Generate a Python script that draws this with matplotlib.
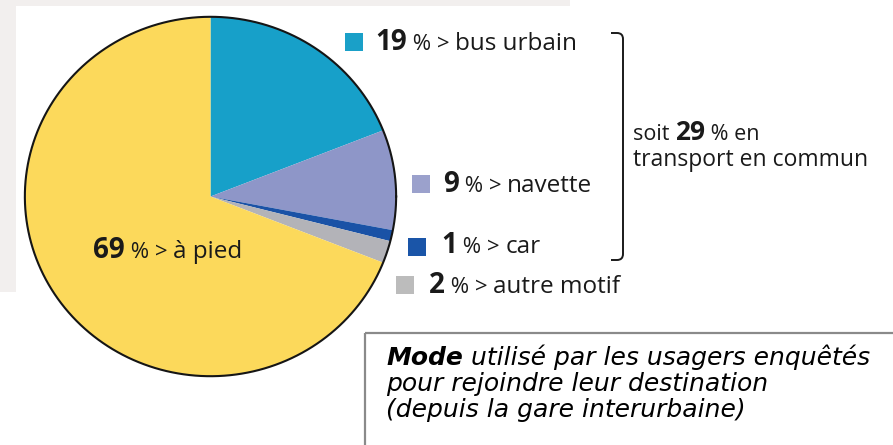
import numpy as np
import matplotlib
matplotlib.use('Agg')
import matplotlib.pyplot as plt
from matplotlib.patches import Rectangle, PathPatch
from matplotlib.path import Path

# data, clockwise from 12 o'clock
labels = ['bus urbain', 'navette', 'car', 'autre motif', 'à pied']
values = [19, 9, 1, 2, 69]
colors = ['#17a0c9', '#8e96c8', '#1a52a6', '#b3b3b8', '#fcd95b']
square_colors = ['#1aa0c8', '#9ba1cc', '#1a55a8', '#bcbcbc']
total_tc = 29
caption_bold = 'Mode'
caption_rest = [' utilisé par les usagers enquêtés',
                'pour rejoindre leur destination',
                '(depuis la gare interurbaine)']

W, H = 893, 445
fig = plt.figure(figsize=(W / 100, H / 100), dpi=100)

# pie in its own axes (slightly elliptical like the scan)
px0, py0, px1, py1 = 23, 15, 398, 378
pax = fig.add_axes([px0 / W, 1 - py1 / H, (px1 - px0) / W, (py1 - py0) / H])
pax.pie(values, colors=colors, startangle=90, counterclock=False,
        radius=1, wedgeprops=dict(linewidth=0))
t = np.linspace(0, 2 * np.pi, 400)
pax.plot(np.cos(t), np.sin(t), color='#151515', lw=1.5)
pax.set_aspect('auto')
pax.set_xlim(-1.01, 1.01)
pax.set_ylim(-1.01, 1.01)
pax.axis('off')

# overlay axes in pixel coordinates for all texts
ax = fig.add_axes([0, 0, 1, 1])
ax.set_xlim(0, W)
ax.set_ylim(H, 0)
ax.axis('off')

# light grey frame of the scanned page
bg = '#f2efee'
ax.add_patch(Rectangle((0, 0), 570, 6, color=bg, lw=0, zorder=0))
ax.add_patch(Rectangle((0, 0), 16, 292, color=bg, lw=0, zorder=0))

fam = ['Open Sans', 'DejaVu Sans']
txt = '#1a1a1a'
renderer = fig.canvas.get_renderer()


def rich(x, y, parts):
    # parts: list of (string, size, weight), drawn on one baseline
    for s, size, weight in parts:
        t = ax.text(x, y, s, fontsize=size, fontweight=weight, family=fam,
                    color=txt, va='baseline', ha='left')
        bb = t.get_window_extent(renderer)
        x = ax.transData.inverted().transform((bb.x1, bb.y0))[0]
    return x


# legend entries: square (x, top y), text (x, baseline y)
sq = [(345, 33), (412, 175), (408, 238), (396, 276)]
tx = [(375, 50), (443, 192), (441, 253), (429, 293)]
for i in range(4):
    ax.add_patch(Rectangle(sq[i], 18, 18, color=square_colors[i], lw=0))
    rich(tx[i][0], tx[i][1], [(str(values[i]), 20, 'bold'),
                              (' % > ', 16, 'normal'),
                              (labels[i], 17.5, 'normal')])

# label inside the pie
rich(93, 258, [(str(values[4]), 20, 'bold'), (' % > ', 16, 'normal'),
               (labels[4], 17.5, 'normal')])

# bracket
bx, by0, by1, r = 623, 33, 260, 6
verts = [(611, by0), (bx - r, by0), (bx, by0), (bx, by0 + r),
         (bx, by1 - r), (bx, by1), (bx - r, by1), (611, by1)]
codes = [Path.MOVETO, Path.LINETO, Path.CURVE3, Path.CURVE3,
         Path.LINETO, Path.CURVE3, Path.CURVE3, Path.LINETO]
ax.add_patch(PathPatch(Path(verts, codes), fill=False, ec='#1a1a1a', lw=1.4))

rich(633, 140, [('soit ', 15.5, 'normal'), (str(total_tc), 19, 'bold'),
                (' % en', 15.5, 'normal')])
ax.text(633, 166, 'transport en commun', fontsize=16.5, family=fam, color=txt,
        va='baseline', ha='left')

# caption box
ax.add_patch(Rectangle((365, 333), 560, 140, fill=False, ec='#8a8a8a', lw=1.6))
cfam = ['DejaVu Sans']
x = 386
t0 = ax.text(x, 365, caption_bold, fontsize=18, fontweight='bold',
             style='italic', family=cfam, color='black', va='baseline')
bb = t0.get_window_extent(renderer)
x1 = ax.transData.inverted().transform((bb.x1, bb.y0))[0]
ax.text(x1, 365, caption_rest[0], fontsize=18, style='italic', family=cfam,
        color='black', va='baseline')
ax.text(x, 391, caption_rest[1], fontsize=18, style='italic', family=cfam,
        color='black', va='baseline')
ax.text(x, 417, caption_rest[2], fontsize=18, style='italic', family=cfam,
        color='black', va='baseline')

fig.savefig('out.png', dpi=100)
